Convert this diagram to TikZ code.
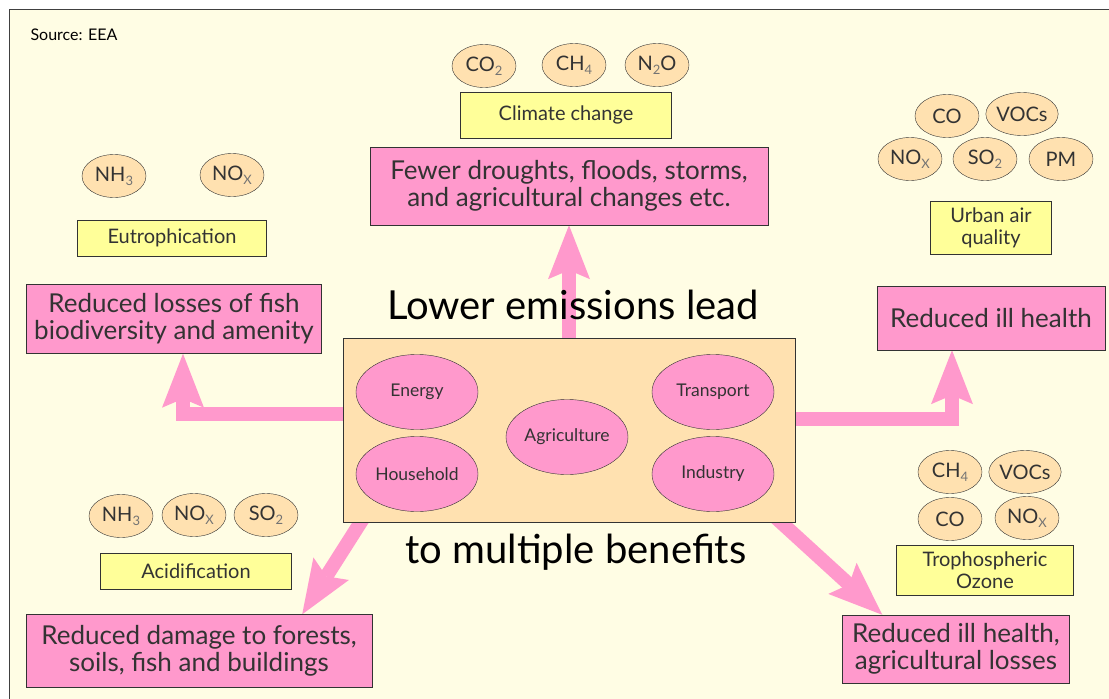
\documentclass[tikz,border=0pt]{standalone}
\usepackage{fontspec}
\setmainfont{Lato}
\usetikzlibrary{shapes.geometric,arrows.meta}
\pgfdeclarelayer{background}
\pgfsetlayers{background,main}

\definecolor{cream}{HTML}{FFFDE4}
\definecolor{peach}{HTML}{FFE1B0}
\definecolor{lemon}{HTML}{FFFF99}
\definecolor{rose}{HTML}{FF99CC}
\definecolor{ink}{HTML}{333333}
\newcommand{\chem}[1]{\raisebox{-0.4ex}{\fontsize{13}{13}\selectfont\color{black!55}#1}}

\begin{document}
\begin{tikzpicture}[x=1pt, y=-1pt,
    gas/.style={draw=ink, ellipse, fill=peach, minimum width=64pt, minimum height=43pt, inner sep=0pt, text=ink, font=\fontsize{20}{22}\selectfont},
    sector/.style={draw=ink, ellipse, fill=rose, minimum width=122pt, minimum height=75pt, inner sep=0pt, text=ink, font=\fontsize{17.5}{19}\selectfont},
    issue/.style={draw=ink, fill=lemon, inner sep=0pt, align=center, text=ink, font=\fontsize{20}{22}\selectfont},
    benefit/.style={draw=ink, fill=rose, inner sep=0pt, align=center, text=ink, font=\fontsize{26}{27}\selectfont},
    bigarrow/.style={rose, line width=14pt, -{Stealth[length=54pt, width=42pt, inset=9pt, line width=0pt]}}
]
\useasboundingbox (0,0) rectangle (1109,699);

% Background and frame
\begin{pgfonlayer}{background}
\fill[cream] (9,9) rectangle (1109,699);
\end{pgfonlayer}
\draw[black!75, line width=1.5pt] (9.5,699) -- (9.5,9.5) -- (1109,9.5);
\node[anchor=west, font=\fontsize{16}{18}\selectfont] (source) at (27,35) {Source: EEA};

% Sectors
\node[draw=ink, fill=peach, minimum width=452pt, minimum height=184pt] (core) at (569,430) {};
\node[sector] (energy) at (417,392) {Energy};
\node[sector] (household) at (417,474) {Household};
\node[sector] (agri) at (567,437) {Agriculture};
\node[sector] (transport) at (713,392) {Transport};
\node[sector] (industry) at (713,474) {Industry};
\node[anchor=base, font=\fontsize{40}{44}\selectfont] (lead) at (573,319) {Lower emissions lead};
\node[anchor=base, font=\fontsize{40}{44}\selectfont] (multi) at (576,563) {to multiple benefits};

% Climate change
\node[gas] (co2) at (484,66) {CO\chem{2}};
\node[gas] (ch4) at (574,65) {CH\chem{4}};
\node[gas] (n2o) at (657,65) {N\chem{2}O};
\node[issue, minimum width=211pt, minimum height=46pt] (climate) at (566,115) {Climate change};
\node[benefit, minimum width=398pt, minimum height=78pt] (fewer) at (569,186) {Fewer droughts, floods, storms,\\and agricultural changes etc.};

% Eutrophication
\node[gas] (nh3a) at (114,176) {NH\chem{3}};
\node[gas] (noxa) at (232,175) {NO\chem{X}};
\node[issue, minimum width=189pt, minimum height=36pt] (eutro) at (172,238) {Eutrophication};
\node[benefit, minimum width=295pt, minimum height=69pt] (fish) at (174,319) {Reduced losses of fish\\biodiversity and amenity};

% Urban air quality
\node[gas] (cob) at (947,116) {CO};
\node[gas] (vocb) at (1022,114) {VOCs};
\node[gas] (noxb) at (910,159) {NO\chem{X}};
\node[gas] (so2b) at (985,159) {SO\chem{2}};
\node[gas] (pmb) at (1061,159) {PM};
\node[issue, minimum width=121pt, minimum height=53pt] (urban) at (991,228) {Urban air\\quality};
\node[benefit, minimum width=228pt, minimum height=64pt] (health) at (991,318) {Reduced ill health};

% Acidification
\node[gas] (nh3c) at (121,516) {NH\chem{3}};
\node[gas] (noxc) at (194,515) {NO\chem{X}};
\node[gas] (so2c) at (266,515) {SO\chem{2}};
\node[issue, minimum width=191pt, minimum height=36pt] (acid) at (196,571) {Acidification};
\node[benefit, minimum width=346pt, minimum height=73pt] (forest) at (199,651) {Reduced damage to forests,\\soils, fish and buildings};

% Tropospheric ozone
\node[gas] (ch4d) at (950,472) {CH\chem{4}};
\node[gas] (vocd) at (1025,472) {VOCs};
\node[gas] (cod) at (950,519) {CO};
\node[gas] (noxd) at (1027,518) {NO\chem{X}};
\node[issue, minimum width=177pt, minimum height=50pt] (ozone) at (985,570) {Trophospheric\\Ozone};
\node[benefit, minimum width=227pt, minimum height=68pt] (crops) at (956,649) {Reduced ill health,\\agricultural losses};

% Arrows
\begin{pgfonlayer}{background}
\draw[bigarrow] (core.north) -- (fewer.south);
\draw[bigarrow] ([yshift=16pt]core.west) -| ([xshift=9pt]fish.south);
\draw[bigarrow] ([yshift=11pt]core.east) -| ([xshift=-39pt]health.south);
\draw[bigarrow] ([xshift=23pt, yshift=8pt]core.south west) -- ([xshift=-70pt]forest.north east);
\draw[bigarrow] ([xshift=-22pt, yshift=7pt]core.south east) -- ([xshift=40pt]crops.north west);
\end{pgfonlayer}

\end{tikzpicture}
\end{document}
